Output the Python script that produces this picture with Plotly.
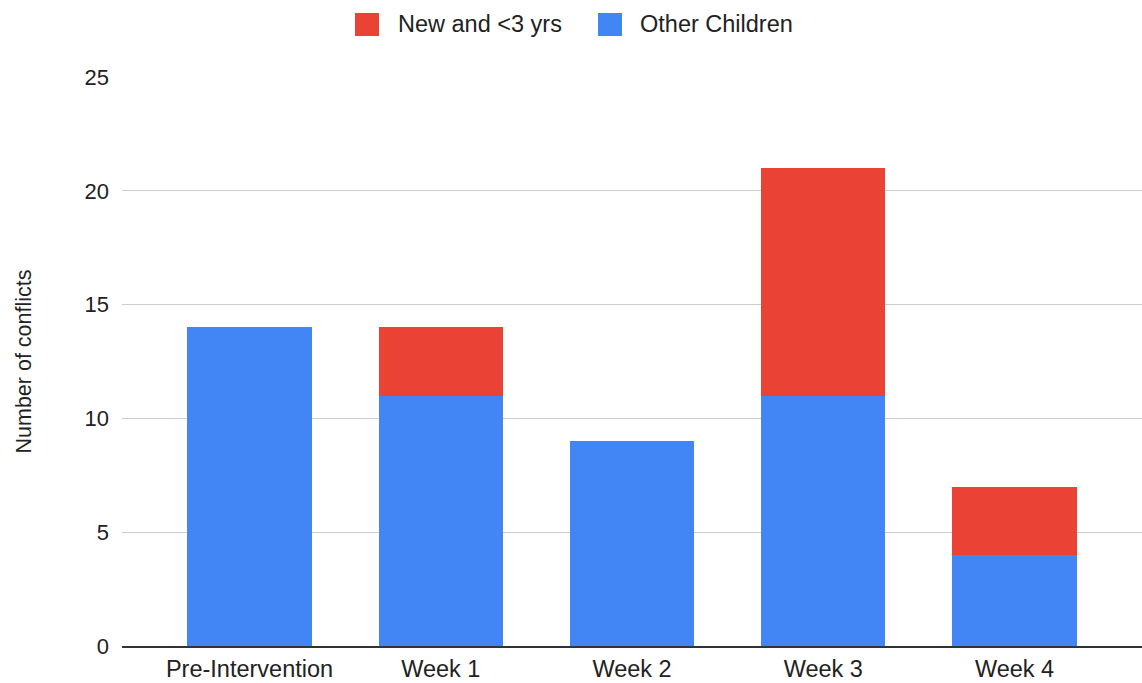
import plotly.graph_objects as go

# Conflict counts per period, stacked by group
periods = ["Pre-Intervention", "Week 1", "Week 2", "Week 3", "Week 4"]
other_children = [14, 11, 9, 11, 4]
new_under_3 = [None, 3, None, 10, 3]

series_names = ["New and <3 yrs", "Other Children"]
series_colors = ["#EA4335", "#4285F4"]

y_ticks = [0, 5, 10, 15, 20, 25]
y_title = "Number of conflicts"

FONT = "Liberation Sans, Arial, sans-serif"
W, H = 1142, 683
L, R, T, B = 122, 0, 77, 37
plot_w = W - L - R
plot_h = H - T - B

fig = go.Figure()
fig.add_trace(go.Bar(
    x=periods, y=other_children, name=series_names[1],
    marker=dict(color=series_colors[1], line=dict(width=0), cornerradius=0),
    width=0.65, showlegend=False,
))
fig.add_trace(go.Bar(
    x=periods, y=new_under_3, name=series_names[0],
    marker=dict(color=series_colors[0], line=dict(width=0), cornerradius=3),
    width=0.65, showlegend=False,
))

# Legend built from shapes + text so the swatches are full-size squares
def px_x(px):
    return (px - L) / plot_w

def px_y(py):
    return (H - B - py) / plot_h

legend_items = [
    (series_names[0], series_colors[0], 367, 396),
    (series_names[1], series_colors[1], 610, 638),
]
shapes = []
annotations = []
for name, color, sx, tx in legend_items:
    shapes.append(dict(
        type="rect", xref="paper", yref="paper",
        xsizemode="pixel", ysizemode="pixel",
        xanchor=px_x(sx), yanchor=px_y(24.5),
        x0=-12, x1=12, y0=-11.5, y1=11.5,
        fillcolor=color, line=dict(width=0), layer="above",
    ))
    annotations.append(dict(
        x=px_x(tx), y=px_y(24.5), xref="paper", yref="paper",
        xanchor="left", yanchor="middle", showarrow=False,
        text=name, font=dict(family=FONT, size=23.5, color="#222222"),
    ))

fig.update_layout(
    width=W, height=H,
    margin=dict(l=L, r=R, t=T, b=B, autoexpand=False),
    paper_bgcolor="white", plot_bgcolor="white",
    barmode="stack",
    showlegend=False,
    font=dict(family=FONT, size=22, color="#222222"),
    shapes=shapes, annotations=annotations,
    xaxis=dict(
        type="category",
        range=[-0.5 - 0.1667, 4.5 + 0.1667],
        showgrid=False, zeroline=False,
        showline=True, linecolor="#333333", linewidth=2,
        ticks="", tickfont=dict(family=FONT, size=23.5, color="#222222"),
        ticklabelstandoff=1,
    ),
    yaxis=dict(
        range=[0, 25], tickvals=y_ticks,
        showgrid=True, gridcolor="#cccccc", gridwidth=1,
        zeroline=False, showline=False, ticks="",
        tickfont=dict(family=FONT, size=22, color="#222222"),
        ticklabelstandoff=12,
        title=dict(text=y_title, font=dict(family=FONT, size=21.5, color="#222222"),
                   standoff=46),
    ),
)

fig.write_html("out.html")
